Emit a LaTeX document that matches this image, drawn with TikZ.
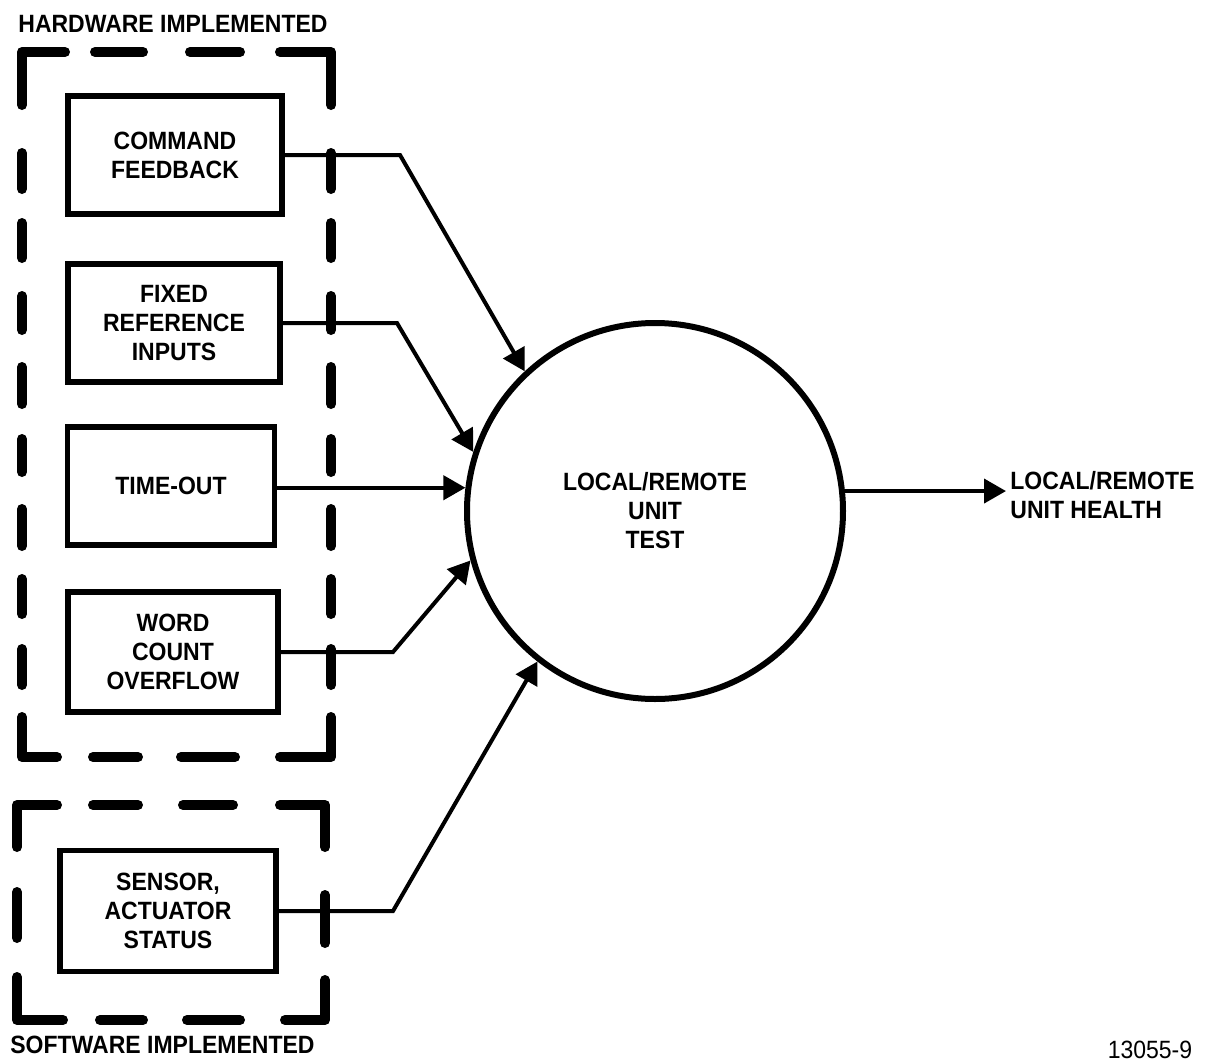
\documentclass[tikz,border=0pt]{standalone}
\usepackage{fontspec}
\newfontfamily\lblfont{Liberation Sans}[FakeStretch=0.92]
\usetikzlibrary{arrows.meta}
\begin{document}
\begin{tikzpicture}[x=0.5pt,y=-0.5pt,
  lbl/.style={font=\lblfont\bfseries\fontsize{12.5}{14.5}\selectfont, align=center, inner sep=0pt},
  srcbox/.style={lbl, draw, rectangle, line width=2.8pt, minimum height=59pt},
  unit/.style={lbl, draw, circle, line width=3pt, minimum size=188pt},
  flow/.style={line width=2pt, line join=miter, -{Triangle[length=11pt,width=12pt]}},
  frame/.style={line width=5pt, line cap=round, line join=round}]
\useasboundingbox (0,0) rectangle (1217,1061);

% group captions
\node[lbl, anchor=west] (hwcap) at (18,24) {HARDWARE IMPLEMENTED};
\node[lbl, anchor=west] (swcap) at (10,1045) {SOFTWARE IMPLEMENTED};

% hardware group frame
\draw[frame] (22,105) -- (22,52) -- (65,52);
\draw[frame] (280,52) -- (331,52) -- (331,105);
\draw[frame] (22,717) -- (22,757) -- (57,757);
\draw[frame] (280,757) -- (331,757) -- (331,717);
\foreach \a/\b in {95/143,190/240} \draw[frame] (\a,52) -- (\b,52);
\foreach \a/\b in {93/138,181/235} \draw[frame] (\a,757) -- (\b,757);
\foreach \a/\b in {153/189,223/258,296/330,367/404,439/472,509/546,579/614,649/685}
  {\draw[frame] (22,\a) -- (22,\b); \draw[frame] (331,\a) -- (331,\b);}

% software group frame
\draw[frame] (17,847) -- (17,805) -- (57,805);
\draw[frame] (280,805) -- (325,805) -- (325,847);
\draw[frame] (17,977) -- (17,1020) -- (63,1020);
\draw[frame] (285,1020) -- (325,1020) -- (325,980);
\foreach \a/\b in {93/138,183/233} \draw[frame] (\a,805) -- (\b,805);
\foreach \a/\b in {100/143,187/240} \draw[frame] (\a,1020) -- (\b,1020);
\draw[frame] (17,892) -- (17,938);
\draw[frame] (325,895) -- (325,943);

% test inputs
\node[srcbox, minimum width=107pt] (cmd) at (175,155) {COMMAND\\FEEDBACK};
\node[srcbox, minimum width=106pt] (fixed) at (174,323) {FIXED\\REFERENCE\\INPUTS};
\node[srcbox, minimum width=103.5pt] (timeout) at (171,486) {TIME-OUT};
\node[srcbox, minimum width=105pt, minimum height=60pt] (word) at (173,652) {WORD\\COUNT\\OVERFLOW};
\node[srcbox, minimum width=108pt, minimum height=60.5pt] (sensor) at (168,911) {SENSOR,\\ACTUATOR\\STATUS};

% unit test process
\node[unit] (c) at (655,511) {LOCAL/REMOTE\\UNIT\\TEST};

% result
\node[lbl, align=left, anchor=west] (out) at (1010,495) {LOCAL/REMOTE\\UNIT HEALTH};

% connectors
\coordinate (b1) at (400,155);
\coordinate (b2) at (397,323);
\coordinate (b4) at (393,652);
\coordinate (b5) at (393,911);
\draw[flow] (cmd.east) -- (b1) -- (c.133.3);
\draw[flow] (fixed.east) -- (b2) -- (c.162.7);
\draw[flow] (c.173 -| timeout.east) -- (c.173);
\draw[flow] (word.east) -- (b4) -- (c.195.7);
\draw[flow] (sensor.east) -- (b5) -- (c.232.8);
\draw[flow] (c.6.4) -- ([xshift=-2pt]c.6.4 -| out.west);

% drawing number
\node[font=\lblfont\fontsize{12.5}{14}\selectfont, anchor=base, inner sep=0pt] (num) at (1150,1058) {13055-9};
\end{tikzpicture}
\end{document}
